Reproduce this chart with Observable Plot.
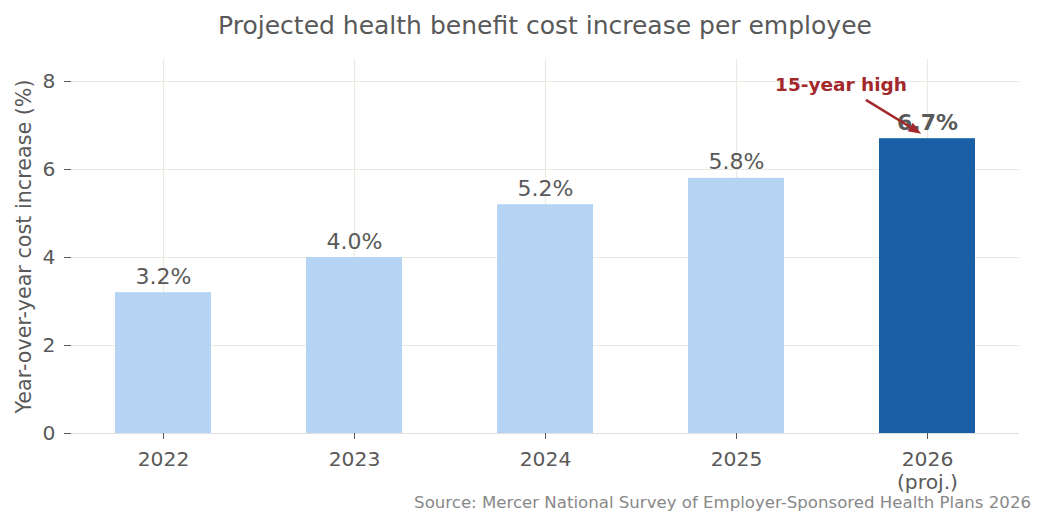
<!DOCTYPE html>
<html>
<head>
<meta charset="utf-8">
<script src="https://cdn.jsdelivr.net/npm/d3@7"></script>
<script src="https://cdn.jsdelivr.net/npm/@observablehq/plot@0.6"></script>
<style>
  html, body { margin: 0; padding: 0; background: #fff; }
  #wrap { position: relative; width: 1046px; height: 529px; font-family: "DejaVu Sans", sans-serif; }
  #title { position: absolute; left: 71px; top: 0; width: 948px; text-align: center; font-size: 25px; color: #595959; line-height: 25px; padding-top: 13px; }
  #chart { position: absolute; left: 0; top: 59px; }
  #caption { position: absolute; right: 15px; top: 493px; font-size: 16.6px; color: #888; white-space: nowrap; }
</style>
</head>
<body>
<div id="wrap">
  <div id="title">Projected health benefit cost increase per employee</div>
  <div id="chart"></div>
  <div id="caption">Source: Mercer National Survey of Employer-Sponsored Health Plans 2026</div>
</div>
<script>
const years = ["2022", "2023", "2024", "2025", "2026"];
const tickLabels = ["2022", "2023", "2024", "2025", "2026\n(proj.)"];
const values = [3.2, 4.0, 5.2, 5.8, 6.7];
const highlight = [false, false, false, false, true];
const yTicks = [0, 2, 4, 6, 8];
const yLabel = "Year-over-year cost increase (%)";
const annotationText = "15-year high";
const annotationYear = "2026";
// annotation anchor points in data space (band offset in steps, value)
const annotationTextPos = {offset: -0.45, value: 7.93};
const arrowFrom = {offset: -0.32, value: 7.57};
const arrowTo = {offset: -0.03, value: 6.8};

const data = years.map((year, i) => ({year, value: values[i], hi: highlight[i], label: values[i].toFixed(1) + "%"}));
const labelOf = new Map(years.map((y, i) => [y, tickLabels[i]]));

const red = "#a2282c";
const gray = "#595959";
const grid = "#e9e9e2";

function arrowMark(index, scales) {
  const x = scales.x, y = scales.y;
  const step = x.step(), bw = x.bandwidth();
  const cx = x(annotationYear) + bw / 2;
  const x1 = cx + arrowFrom.offset * step, y1 = y(arrowFrom.value);
  const x2 = cx + arrowTo.offset * step, y2 = y(arrowTo.value);
  const ang = Math.atan2(y2 - y1, x2 - x1);
  const hl = 13, hw = 5;
  const bx = x2 - hl * Math.cos(ang), by = y2 - hl * Math.sin(ang);
  const px = -Math.sin(ang), py = Math.cos(ang);
  const g = d3.create("svg:g");
  g.append("line").attr("x1", x1).attr("y1", y1).attr("x2", bx).attr("y2", by)
    .attr("stroke", red).attr("stroke-width", 2.5);
  g.append("path")
    .attr("d", `M${x2},${y2}L${bx + px * hw},${by + py * hw}L${bx - px * hw},${by - py * hw}Z`)
    .attr("fill", red);
  return g.node();
}

function annoText(index, scales) {
  const x = scales.x, y = scales.y;
  const cx = x(annotationYear) + x.bandwidth() / 2 + annotationTextPos.offset * x.step();
  const t = d3.create("svg:text")
    .attr("x", cx).attr("y", y(annotationTextPos.value))
    .attr("text-anchor", "middle").attr("dy", "0.35em")
    .attr("fill", red).attr("font-weight", "bold").attr("font-size", 18.5)
    .attr("font-family", "DejaVu Sans, sans-serif")
    .text(annotationText);
  return t.node();
}

const chart = Plot.plot({
  width: 1046,
  height: 470,
  marginLeft: 71,
  marginRight: 27,
  marginTop: 0,
  marginBottom: 96,
  style: {fontFamily: "DejaVu Sans, sans-serif", fontSize: "20px", color: gray, background: "#fff", overflow: "visible"},
  x: {domain: years, paddingInner: 0.5, paddingOuter: 0.225, align: 0.5, label: null},
  y: {domain: [0, 8.5], label: null},
  marks: [
    Plot.gridY(yTicks, {stroke: grid, strokeOpacity: 1, strokeWidth: 1.2}),
    Plot.gridX(years, {stroke: grid, strokeOpacity: 1, strokeWidth: 1.2}),
    Plot.ruleY([0], {stroke: "#e0e0e0", strokeWidth: 1.2}),
    Plot.barY(data, {x: "year", y: "value", fill: d => d.hi ? "#1a5fa6" : "#b5d4f3"}),
    Plot.axisY(yTicks, {tickSize: 7, tickPadding: 9, stroke: gray, fill: gray, fontSize: 20.3, label: null}),
    Plot.axisX(years, {tickSize: 6, tickPadding: 10, stroke: gray, fill: gray, fontSize: 20.3, lineHeight: 1.15, label: null, tickFormat: d => labelOf.get(d)}),
    Plot.text(data.filter(d => !d.hi), {x: "year", y: "value", text: "label", dy: -9, lineAnchor: "bottom", fontSize: 22, fill: gray}),
    Plot.text(data.filter(d => d.hi), {x: "year", y: "value", text: "label", dy: -9, lineAnchor: "bottom", fontSize: 22, fill: gray, fontWeight: "bold"}),
    Plot.text([yLabel], {text: d => d, frameAnchor: "left", rotate: -90, dx: -47, textAnchor: "middle", fontSize: 20.7, fill: gray}),
    arrowMark,
    annoText
  ]
});
document.getElementById("chart").appendChild(chart);
</script>
</body>
</html>
